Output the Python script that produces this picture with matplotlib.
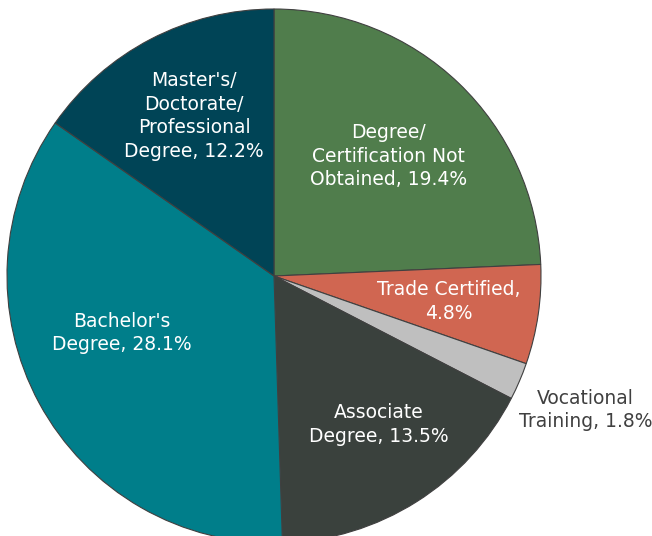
import matplotlib.pyplot as plt
import numpy as np

labels = [
    "Degree/\nCertification Not\nObtained, 19.4%",
    "Trade Certified,\n4.8%",
    "Vocational\nTraining, 1.8%",
    "Associate\nDegree, 13.5%",
    "Bachelor's\nDegree, 28.1%",
    "Master's/\nDoctorate/\nProfessional\nDegree, 12.2%",
]
shares = [19.4, 4.8, 1.8, 13.5, 28.1, 12.2]
colors = ["#507D4C", "#D06651", "#BFBFBF", "#3A413D", "#007E8A", "#004456"]
# label placement: radial fraction and angle nudge (deg, clockwise) from wedge middle
label_dist = [0.62, 0.66, 1.27, 0.68, 0.61, 0.67]
label_nudge = [0, 0, 0, -3, 8, 1]
label_colors = ["white", "white", "#404040", "white", "white", "white"]

W, H = 652, 536
cx, cy, r = 274, 276, 267

fig = plt.figure(figsize=(W / 100, H / 100), dpi=100)
ax = fig.add_axes([(cx - r) / W, (H - cy - r) / H, 2 * r / W, 2 * r / H])

wedges, texts = ax.pie(
    shares, colors=colors, labels=labels, startangle=90, counterclock=False,
    labeldistance=0.65, radius=1,
    wedgeprops=dict(edgecolor="#404040", linewidth=0.8),
    textprops=dict(fontsize=13.5, family="DejaVu Sans", linespacing=1.3),
)

for w, t, d, n, c in zip(wedges, texts, label_dist, label_nudge, label_colors):
    ang = np.deg2rad((w.theta1 + w.theta2) / 2 - n)
    t.set_position((d * np.cos(ang), d * np.sin(ang)))
    t.set_ha("center")
    t.set_va("center")
    t.set_multialignment("center")
    t.set_color(c)

ax.set_xlim(-1, 1)
ax.set_ylim(-1, 1)
ax.set_aspect("equal")
ax.axis("off")

fig.savefig("out.png", dpi=100)
